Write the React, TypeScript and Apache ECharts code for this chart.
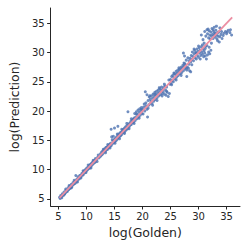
import React, { useEffect, useRef } from "react";
import * as echarts from "echarts";

const tickValues = [5, 10, 15, 20, 25, 30, 35];

const lowPoints: [number, number][] = [
  [5.2, 5.3], [5.3, 5.1], [5.4, 5.6], [5.5, 5.4], [5.6, 5.5], [5.7, 5.9], [5.8, 5.6], [5.9, 5.8],
  [6.0, 6.2], [6.1, 5.9], [6.2, 6.0], [6.3, 6.5], [6.4, 6.2], [6.5, 6.4], [6.6, 6.3], [6.7, 6.9],
  [6.8, 6.6], [6.9, 6.7], [7.0, 7.2], [7.0, 6.8], [7.1, 7.0], [7.2, 6.9], [7.3, 7.5], [7.4, 7.1],
  [7.5, 7.4], [7.6, 7.8], [7.7, 7.5], [7.8, 7.6], [7.9, 8.0], [8.0, 7.7], [8.1, 9.0], [8.1, 8.1],
  [8.2, 7.9], [8.3, 8.4], [8.4, 8.2], [8.5, 8.8], [8.6, 8.5], [8.7, 8.4], [8.8, 9.0], [8.9, 8.7],
  [9.0, 9.1], [9.1, 8.9], [9.2, 9.4], [9.3, 9.2], [9.4, 9.1], [9.5, 9.7], [9.6, 9.4],
  [9.7, 9.9], [9.8, 9.6], [9.9, 10.1], [10.0, 9.8], [10.1, 10.3], [10.2, 10.0], [10.3, 10.4],
  [10.4, 10.2], [10.5, 10.7], [10.6, 10.3], [10.7, 10.9], [10.8, 10.6], [10.9, 11.1], [11.0, 10.8],
  [11.1, 11.3], [11.2, 11.0], [11.3, 11.5], [11.4, 11.2], [11.5, 11.6], [11.6, 11.9], [11.8, 11.7],
  [12.0, 12.1], [12.2, 12.0],
  [5.6, 5.2], [6.0, 5.7], [6.3, 6.7], [6.9, 7.3], [7.3, 6.9], [7.8, 8.2], [8.4, 7.9], [9.0, 8.6],
  [9.4, 9.8], [9.9, 9.5], [10.3, 10.8], [10.8, 10.3], [11.2, 11.6], [11.6, 11.3], [12.1, 12.5],
  [11.9, 11.4], [12.4, 12.2],
];

const midLowPoints: [number, number][] = [
  [12.5, 12.7], [12.6, 12.4], [12.7, 13.0], [12.8, 12.6], [12.9, 13.2], [13.0, 12.8], [13.1, 13.4],
  [13.2, 13.1], [13.3, 13.6], [13.4, 13.2], [13.5, 13.8], [13.6, 13.4], [13.7, 13.9], [13.8, 13.5],
  [13.9, 14.1], [14.0, 13.8], [14.1, 14.3], [14.2, 14.0], [14.3, 14.5], [14.4, 14.1], [14.5, 15.6],
  [14.6, 14.4], [14.7, 14.9], [14.8, 15.7], [14.9, 14.6], [15.0, 15.2], [15.1, 14.8], [15.2, 15.4],
  [15.3, 15.0], [14.4, 16.9], [15.0, 17.1], [15.6, 17.4],
  [15.4, 15.6], [15.5, 15.2], [15.6, 15.9], [15.7, 15.5], [15.8, 16.1], [15.9, 15.7], [16.0, 16.3],
  [16.1, 15.8], [16.2, 16.4], [16.3, 16.0], [16.4, 16.7], [16.5, 16.3], [16.6, 16.9], [16.7, 16.4],
  [16.8, 17.1], [16.9, 16.6], [17.0, 17.3], [17.1, 16.8], [17.2, 17.5], [17.3, 17.0], [17.4, 19.9],
  [17.5, 17.7], [17.6, 17.3], [17.7, 17.9], [17.8, 17.6], [17.9, 18.2], [18.0, 17.7], [18.1, 18.4],
  [18.2, 18.0], [18.3, 18.6], [18.4, 18.1], [18.5, 18.8], [18.6, 19.6], [18.7, 18.4], [18.8, 19.0],
  [18.9, 19.9], [19.0, 18.7], [19.1, 19.4], [19.2, 20.2], [19.3, 19.0], [19.4, 19.8], [19.5, 20.4],
  [19.6, 19.3], [19.7, 20.1], [19.8, 20.6], [19.9, 19.6], [20.0, 20.3], [20.2, 20.7], [20.4, 20.0],
  [20.6, 20.9], [20.9, 19.0], [20.5, 23.3], [20.8, 22.8],
  [13.0, 13.5], [13.4, 12.9], [13.8, 14.3], [14.2, 13.7], [14.6, 15.1], [15.1, 14.5], [15.5, 16.1],
  [15.9, 15.3], [16.3, 16.9], [16.8, 16.2], [17.2, 17.9], [17.6, 17.0], [18.0, 18.7], [18.5, 17.9],
  [18.9, 19.5], [19.4, 18.8], [19.8, 20.3], [20.1, 19.5], [20.3, 21.2],
];

const midHighPoints: [number, number][] = [
  [20.6, 21.4], [20.8, 20.3], [21.0, 21.8], [21.1, 21.0], [21.2, 22.4], [21.3, 21.2], [21.4, 22.0],
  [21.5, 21.6], [21.6, 22.6], [21.7, 21.3], [21.8, 22.2], [21.9, 22.9], [22.0, 21.7], [22.1, 22.5],
  [22.2, 23.2], [22.3, 22.0], [22.4, 22.8], [22.5, 23.4], [22.6, 22.3], [22.7, 23.0], [22.8, 23.6],
  [22.9, 22.6], [23.0, 23.2], [23.1, 23.8], [23.2, 22.8], [23.3, 23.5], [23.4, 24.1], [23.5, 23.0],
  [23.6, 23.7], [23.7, 23.3], [23.8, 24.0], [23.9, 22.9], [24.0, 24.3], [24.1, 23.6], [24.2, 22.7],
  [24.3, 24.1], [24.4, 23.2], [24.6, 22.5], [24.8, 23.0], [24.9, 24.6],
  [25.0, 25.4], [25.1, 24.7], [25.2, 25.9], [25.3, 25.2], [25.4, 26.1], [25.5, 25.0], [25.6, 25.7],
  [25.7, 26.4], [25.8, 25.5], [25.9, 26.2], [26.0, 26.8], [26.1, 25.8], [26.2, 26.5], [26.3, 27.0],
  [26.4, 26.1], [26.5, 26.7], [26.6, 27.2], [26.7, 26.4], [26.8, 27.0], [26.9, 27.5], [27.0, 26.6],
  [27.1, 27.3], [27.2, 27.8], [27.3, 26.9], [27.4, 27.6], [27.5, 28.1], [27.6, 27.2], [27.7, 27.9],
  [27.8, 27.4], [27.9, 25.9], [28.0, 27.5], [28.2, 27.3], [28.4, 26.9], [28.6, 26.7], [28.3, 28.0],
  [27.3, 29.9], [27.5, 29.4], [27.8, 28.7], [28.1, 29.1],
  [21.0, 20.5], [21.3, 22.6], [21.8, 21.0], [22.2, 22.9], [22.6, 21.8], [23.0, 24.0], [23.5, 22.6],
  [23.9, 24.6], [24.3, 23.4], [24.7, 25.3], [25.2, 24.5], [25.6, 26.5], [26.0, 25.3], [26.5, 27.4],
  [26.9, 26.1], [27.4, 28.2], [27.9, 27.0], [28.3, 28.6], [28.8, 27.9],
];

const highPoints: [number, number][] = [
  [28.5, 29.0], [28.6, 28.4], [28.7, 29.5], [28.8, 28.8], [28.9, 30.1], [29.0, 29.3], [29.1, 28.6],
  [29.2, 29.8], [29.3, 30.4], [29.4, 29.1], [29.5, 30.0], [29.6, 28.9], [29.7, 30.6], [29.8, 29.5],
  [29.9, 30.2], [30.0, 29.2], [30.1, 30.8], [30.2, 29.9], [30.3, 30.4], [30.4, 29.5], [30.5, 31.0],
  [30.6, 30.1], [30.7, 29.7], [30.8, 30.6], [30.9, 29.3], [31.0, 30.3], [31.1, 29.9], [31.2, 30.7],
  [31.4, 28.9], [31.6, 29.6], [31.8, 30.1], [32.0, 29.8], [32.2, 30.4], [30.5, 33.0], [30.8, 32.2],
  [31.0, 31.6], [31.3, 31.1],
  [31.1, 33.6], [31.3, 32.8], [31.5, 33.9], [31.6, 33.2], [31.8, 32.5], [31.9, 33.7], [32.0, 33.0],
  [32.1, 32.3], [32.2, 33.5], [32.3, 32.8], [32.4, 34.1], [32.5, 33.1], [32.6, 32.4], [32.7, 33.6],
  [32.8, 32.9], [32.9, 33.3], [33.0, 32.6], [33.1, 33.8], [33.2, 33.0], [33.3, 32.3], [33.4, 33.4],
  [33.5, 32.8], [33.6, 33.5], [33.8, 32.7], [34.0, 33.1], [34.2, 32.4], [33.7, 31.8], [34.8, 33.6],
  [35.0, 33.2], [35.3, 33.8], [35.6, 33.4], [35.9, 33.0], [35.7, 33.9],
  [29.2, 30.6], [29.6, 29.9], [30.0, 31.1], [30.3, 28.9], [30.7, 31.3], [31.2, 29.4], [31.5, 31.2],
  [31.9, 30.9], [32.3, 31.6], [32.6, 33.9], [33.0, 33.2], [33.4, 32.0], [33.8, 34.2], [34.1, 33.6],
  [34.4, 32.9], [32.8, 34.3], [33.2, 34.5], [31.7, 34.0], [34.5, 33.3], [35.1, 33.5],
];

const identityLine: [number, number][] = [
  [5.2, 5.2],
  [36.0, 36.0],
];

export default function App() {
  const ref = useRef<HTMLDivElement>(null);
  useEffect(() => {
    if (!ref.current) return;
    const chart = echarts.init(ref.current, null, { renderer: "svg" });
    const font = "DejaVu Sans";
    const axisColor = "#262626";
    const pts = [...lowPoints, ...midLowPoints, ...midHighPoints, ...highPoints];
    chart.setOption({
      animation: false,
      backgroundColor: "#ffffff",
      grid: { left: 46, right: 9, top: 8, bottom: 43 },
      xAxis: {
        type: "value",
        min: 3.6,
        max: 37.4,
        name: "log(Golden)",
        nameLocation: "middle",
        nameGap: 19,
        nameTextStyle: { fontFamily: font, fontSize: 12.5, color: axisColor },
        axisLine: { show: true, lineStyle: { color: axisColor, width: 1 } },
        axisTick: { show: true, length: 3.5, customValues: tickValues, lineStyle: { color: axisColor } },
        axisLabel: { customValues: tickValues, fontFamily: font, fontSize: 10, color: axisColor, margin: 5 },
        splitLine: { show: false },
      },
      yAxis: {
        type: "value",
        min: 3.8,
        max: 37.6,
        name: "log(Prediction)",
        nameLocation: "middle",
        nameGap: 25,
        nameTextStyle: { fontFamily: font, fontSize: 12.5, color: axisColor },
        axisLine: { show: true, lineStyle: { color: axisColor, width: 1 } },
        axisTick: { show: true, length: 3.5, customValues: tickValues, lineStyle: { color: axisColor } },
        axisLabel: { customValues: tickValues, fontFamily: font, fontSize: 10, color: axisColor, margin: 6 },
        splitLine: { show: false },
      },
      series: [
        {
          type: "scatter",
          data: pts,
          symbolSize: 3,
          itemStyle: { color: "#4c72b0", opacity: 0.8 },
          z: 2,
        },
        {
          type: "line",
          data: identityLine,
          showSymbol: false,
          lineStyle: { color: "#ec8fa3", width: 1.8 },
          z: 3,
        },
      ],
    });
    return () => chart.dispose();
  }, []);
  return (
    <div
      ref={ref}
      style={{ position: "fixed", left: 0, top: 0, width: 249, height: 249 }}
    />
  );
}
